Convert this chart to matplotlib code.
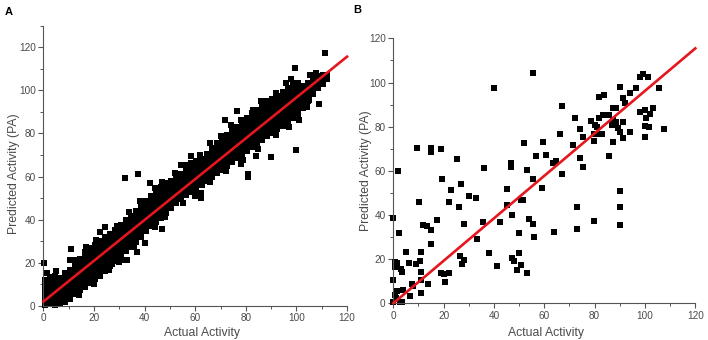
import matplotlib
matplotlib.use('Agg')
import matplotlib.pyplot as plt
from matplotlib.ticker import MultipleLocator

plt.rcParams['font.family'] = ['Liberation Sans', 'DejaVu Sans']

# ---- panel A : training set, dense band (columns of points)
a_col_x = [0.5, 2.5, 4.5, 6.5, 8.5, 10.5, 12.5, 14.5, 16.5, 18.5, 20.5, 22.5, 24.5,
           26.5, 28.5, 30.5, 32.5, 34.5, 36.5, 38.5, 40.5, 42.5, 44.5, 46.5, 48.5,
           50.5, 52.5, 54.5, 56.5, 58.5, 60.5, 62.5, 64.5, 66.5, 68.5, 70.5, 72.5,
           74.5, 76.5, 78.5, 80.5, 82.5, 84.5, 86.5, 88.5, 90.5, 92.5, 94.5, 96.5,
           98.5, 100.5, 102.5, 104.5, 106.5, 108.5, 110.5, 112.0]
a_col_y = [
    [0.5, 2.4, 4.6, 6.3, 8.5, 10.2, 12.1],
    [0.8, 2.9, 4.7, 6.9, 8.8, 11.0, 13.2],
    [0.3, 2.1, 4.2, 6.0, 8.1, 10.3, 12.4, 14.0],
    [0.6, 2.7, 4.9, 6.8, 8.7, 10.6, 12.9],
    [1.5, 3.4, 5.5, 7.3, 9.4, 11.6, 13.5, 15.3],
    [3.2, 5.0, 7.1, 9.0, 11.2, 13.1, 15.2, 16.8],
    [5.3, 7.4, 9.2, 11.3, 13.5, 15.4, 17.6, 19.2],
    [7.1, 9.2, 11.0, 13.1, 15.3, 17.2, 19.4, 21.5],
    [8.8, 10.9, 12.8, 14.9, 17.0, 19.1, 21.2, 23.4, 25.0],
    [10.5, 12.6, 14.7, 16.6, 18.8, 20.9, 23.0, 25.1, 26.6],
    [12.3, 14.4, 16.3, 18.4, 20.6, 22.5, 24.7, 26.8, 28.4],
    [14.0, 16.1, 18.2, 20.1, 22.3, 24.4, 26.5, 28.6, 30.2],
    [15.9, 18.0, 20.1, 22.2, 24.1, 26.3, 28.4, 30.5, 32.1],
    [18.6, 20.7, 22.6, 24.8, 26.9, 28.8, 31.0, 33.1],
    [20.8, 22.9, 25.0, 26.9, 29.1, 31.2, 33.3, 35.2],
    [22.7, 24.8, 26.9, 29.0, 31.1, 33.0, 35.2, 37.3],
    [25.6, 27.7, 29.6, 31.8, 33.9, 36.0, 38.1, 40.0],
    [27.3, 29.4, 31.5, 33.6, 35.7, 37.6, 39.8, 41.9],
    [29.8, 31.9, 34.0, 36.1, 38.0, 40.2, 42.3, 44.2],
    [32.1, 34.2, 36.3, 38.4, 40.3, 42.5, 44.6, 46.4],
    [34.6, 36.7, 38.8, 40.7, 42.9, 45.0, 47.1, 48.6],
    [36.9, 39.0, 41.1, 43.0, 45.2, 47.3, 49.4, 50.8],
    [38.8, 40.9, 43.0, 45.1, 47.0, 49.2, 51.3, 52.6],
    [40.9, 43.0, 45.1, 47.2, 49.1, 51.3, 53.4, 55.3],
    [43.0, 45.1, 47.2, 49.1, 51.3, 53.4, 55.5, 57.2],
    [45.2, 47.3, 49.2, 51.4, 53.5, 55.6, 57.8],
    [47.8, 49.9, 52.0, 53.9, 56.1, 58.2, 59.6],
    [49.6, 51.7, 53.8, 55.9, 57.8, 60.0, 61.4],
    [51.2, 53.3, 55.4, 57.5, 59.4, 61.6, 63.3],
    [52.8, 54.9, 57.0, 59.1, 61.2, 63.1, 65.3, 66.4],
    [53.4, 55.5, 57.6, 59.7, 61.6, 63.8, 65.9, 67.2],
    [55.9, 58.0, 60.1, 62.0, 64.2, 66.3, 68.2],
    [57.8, 59.9, 62.0, 64.1, 66.0, 68.2, 70.3],
    [59.9, 62.0, 64.1, 66.2, 68.1, 70.3, 72.4, 73.4],
    [61.8, 63.9, 66.0, 68.1, 70.0, 72.2, 74.3, 75.5],
    [63.1, 65.2, 67.3, 69.4, 71.5, 73.4, 75.6, 77.2],
    [65.0, 67.1, 69.2, 71.3, 73.4, 75.3, 77.5, 79.4],
    [66.9, 69.0, 71.1, 73.2, 75.3, 77.2, 79.4, 81.5, 82.3],
    [68.8, 70.9, 73.0, 75.1, 77.2, 79.1, 81.3, 83.2],
    [70.2, 72.3, 74.4, 76.5, 78.6, 80.5, 82.7, 84.8],
    [71.8, 73.9, 76.0, 78.1, 80.2, 82.1, 84.3, 86.4, 87.2],
    [73.9, 76.0, 78.1, 80.2, 82.3, 84.2, 86.4, 88.5, 89.3],
    [75.2, 77.3, 79.4, 81.5, 83.6, 85.5, 87.7, 89.8, 91.0],
    [77.1, 79.2, 81.3, 83.4, 85.5, 87.4, 89.6, 91.7, 93.0],
    [78.8, 80.9, 83.0, 85.1, 87.2, 89.1, 91.3, 93.4, 95.0],
    [80.2, 82.3, 84.4, 86.5, 88.6, 90.5, 92.7, 94.8, 96.2],
    [82.0, 84.1, 86.2, 88.3, 90.4, 92.3, 94.5, 96.6, 97.6],
    [83.7, 85.8, 87.9, 90.0, 92.1, 94.0, 96.2, 98.3, 99.4],
    [85.3, 87.4, 89.5, 91.6, 93.7, 95.6, 97.8, 99.9, 101.2],
    [87.1, 89.2, 91.3, 93.4, 95.5, 97.4, 99.6, 101.7, 103.3],
    [88.9, 91.0, 93.1, 95.2, 97.3, 99.2, 101.4, 103.5],
    [92.0, 94.1, 96.2, 98.3, 100.2, 102.0],
    [95.3, 97.4, 99.5, 101.6, 103.6],
    [98.2, 100.3, 102.4, 104.5, 106.4],
    [101.0, 103.1, 105.2, 106.8],
    [103.2, 105.3, 107.0],
    [105.5, 107.4],
]
# points sticking out of the band edges
a_edge_x = [5, 13, 17, 19, 21, 29, 34, 38, 44, 47, 52, 56, 62, 66, 70, 74, 78, 83,
            86, 92, 96, 98, 14, 20, 26, 30, 36, 44, 48, 55, 60, 66, 72, 79, 85, 92,
            97, 101, 104]
a_edge_y = [16, 21, 27.5, 23.8, 30.5, 37, 43.5, 48.5, 54.5, 57.5, 61.5, 65.5, 70,
            75.5, 79, 84, 86.5, 91, 95, 99, 103.5, 105.5, 5, 10, 16.5, 20.5, 27.5,
            36.5, 41, 47.5, 51, 57.5, 62.5, 67.5, 73, 79.5, 83, 86.5, 92.5]
# scattered points off the band
a_out_x = [0.4, 10.9, 10.5, 1.3, 22.4, 24.5, 27.0, 31.6, 33.2, 37.1, 40.1, 32.3,
           37.3, 42.1, 46.7, 54.2, 58.3, 62.1, 62.1, 50.3, 71.8, 76.7, 77.9, 80.7,
           80.9, 84.2, 89.9, 99.7, 99.6, 111.2, 108.8, 105.0, 105.3, 107.6, 110.8]
a_out_y = [19.7, 26.2, 21.2, 15.3, 34.4, 36.5, 19.2, 21.2, 21.2, 25.1, 29.3, 59.2,
           61.0, 56.9, 35.5, 65.4, 69.7, 52.2, 50.2, 46.8, 86.2, 90.4, 65.7, 59.9,
           61.2, 69.7, 68.9, 72.3, 110.3, 117.2, 93.7, 95.5, 107.2, 108.0, 105.6]

# ---- panel B : test set
b_x = [67.2, 72.3, 74.0, 66.3, 59.4, 71.2, 75.3, 60.7, 63.6, 64.6, 74.3, 75.2, 67.0,
       81.9, 83.8, 90.2, 91.2, 94.2, 96.3, 99.2, 98.1, 101.0, 105.4, 92.2, 87.3, 88.6,
       78.5, 80.2, 81.1, 81.9, 83.3, 85.7, 87.3, 88.3, 91.2, 79.6, 81.1, 82.9, 79.8,
       86.9, 89.1, 90.2, 91.2, 94.2, 87.3, 98.1, 100.1, 102.1, 100.5, 103.2, 100.1,
       101.4, 107.7, 100.1, 85.9,
       55.4, 40.0, 56.7, 51.9, 46.6, 46.6, 53.0, 36.0, 55.4, 59.1, 45.0, 45.0, 47.0,
       50.6, 51.7, 42.4, 35.8, 32.8, 30.1, 27.0, 23.0, 22.0, 19.2, 25.2, 19.0, 15.0,
       15.0, 9.4, 1.9, 10.1, 11.9, 13.5, 15.1, 17.2, 15.1, 0.0, 2.1, 27.9, 33.1, 26.2,
       47.3, 48.1, 49.0, 50.1, 50.9, 53.2, 50.1, 54.0, 55.6, 56.0, 64.0, 73.1, 73.1,
       79.7, 90.1, 90.1, 90.1, 38.1, 41.1, 26.5, 27.1, 28.1, 18.8, 20.3, 20.4, 22.0,
       5.0, 10.9, 10.6, 6.4, 9.1, 3.0, 3.6, 0.7, 1.3, 0.7, 0.0, 10.9, 11.1, 13.9, 7.3,
       7.9, 6.6, 4.0, 1.3, 11.1, 0.7, 1.1, 2.6, 3.3, 0.0]
b_y = [89.4, 84.1, 78.9, 76.7, 73.2, 71.7, 75.3, 67.2, 63.4, 64.4, 65.7, 61.9, 58.4,
       93.3, 94.2, 97.8, 93.1, 95.1, 97.4, 103.9, 102.4, 102.5, 97.7, 90.6, 88.3, 88.6,
       82.6, 80.8, 80.0, 84.1, 85.3, 85.3, 83.0, 82.0, 82.3, 76.5, 76.8, 76.8, 73.5,
       80.8, 79.3, 77.7, 74.7, 77.4, 72.9, 86.5, 87.5, 85.6, 84.1, 88.6, 80.4,
       79.8, 78.9, 75.5, 66.8,
       104.2, 97.4, 66.9, 72.5, 63.4, 61.9, 60.4, 61.4, 56.3, 52.1, 51.6, 44.5, 40.0,
       46.8, 46.8, 36.7, 37.0, 47.5, 48.8, 54.2, 51.3, 45.7, 56.3, 65.4, 69.7, 70.2,
       68.7, 70.2, 60.1, 45.7, 35.5, 35.2, 33.2, 37.6, 26.9, 38.8, 31.8, 35.8, 29.3, 43.5,
       20.4, 19.3, 15.1, 22.9, 17.4, 13.7, 31.7, 38.0, 35.9, 30.2, 32.5, 43.5, 33.8,
       37.1, 50.9, 43.5, 35.5, 22.8, 17.1, 21.6, 17.7, 19.6, 13.6, 13.1, 9.8, 13.6,
       23.2, 23.2, 19.3, 18.1, 17.7, 15.5, 14.0, 18.9, 18.1, 16.6, 10.6, 14.3, 10.6, 8.8, 8.8,
       7.8, 3.5, 6.0, 5.7, 4.5, 3.8, 2.6, 0.8, 0.8, 0.8]

# fitted lines (end points)
fit_x = [0, 120]
fit_a = [1.9, 115.7]
fit_b = [0.0, 115.5]

a_x = []
a_y = []
for x, ys in zip(a_col_x, a_col_y):
    for y in ys:
        a_x.append(x)
        a_y.append(y)
a_x += a_edge_x + a_out_x
a_y += a_edge_y + a_out_y

fig = plt.figure(figsize=(7.08, 3.4), dpi=100)
axA = fig.add_axes([0.0612, 0.1009, 0.429, 0.823])
axB = fig.add_axes([0.5555, 0.108, 0.4266, 0.779])

red = '#e5161d'
gray = '#4a4a4a'


def style(ax, ymax):
    ax.set_xlim(0, 120)
    ax.set_ylim(0, ymax)
    for s in ['top', 'right']:
        ax.spines[s].set_visible(False)
    for s in ['left', 'bottom']:
        ax.spines[s].set_color('#555555')
        ax.spines[s].set_linewidth(0.8)
    ax.xaxis.set_major_locator(MultipleLocator(20))
    ax.xaxis.set_minor_locator(MultipleLocator(10))
    ax.yaxis.set_major_locator(MultipleLocator(20))
    ax.yaxis.set_minor_locator(MultipleLocator(10))
    ax.tick_params(which='major', direction='out', length=3.5, width=0.8,
                   color='#555555', labelcolor=gray, labelsize=7.2, pad=2)
    ax.tick_params(which='minor', direction='out', length=2.2, width=0.7,
                   color='#555555')
    ax.set_xlabel('Actual Activity', fontsize=8.8, color=gray)
    ax.set_ylabel('Predicted Activity (PA)', fontsize=8.8, color=gray)


axA.scatter(a_x, a_y, marker='s', s=15, c='black', linewidths=0, clip_on=False, zorder=2)
axA.plot(fit_x, fit_a, color=red, lw=1.9, zorder=3, clip_on=False)
style(axA, 130)
axA.xaxis.set_label_coords(0.524, -0.075)
axA.yaxis.set_label_coords(-0.077, 0.47)

axB.scatter(b_x, b_y, marker='s', s=16, c='black', linewidths=0, clip_on=False, zorder=2)
axB.plot(fit_x, fit_b, color=red, lw=1.9, zorder=3, clip_on=False)
style(axB, 120)
axB.xaxis.set_label_coords(0.507, -0.088)
axB.yaxis.set_label_coords(-0.072, 0.5)

fig.text(5 / 708, 1 - 7 / 340, 'A', fontsize=8, fontweight='bold', ha='left', va='top')
fig.text(353 / 708, 1 - 5 / 340, 'B', fontsize=8, fontweight='bold', ha='left', va='top')

fig.savefig('out.png', dpi=100)
